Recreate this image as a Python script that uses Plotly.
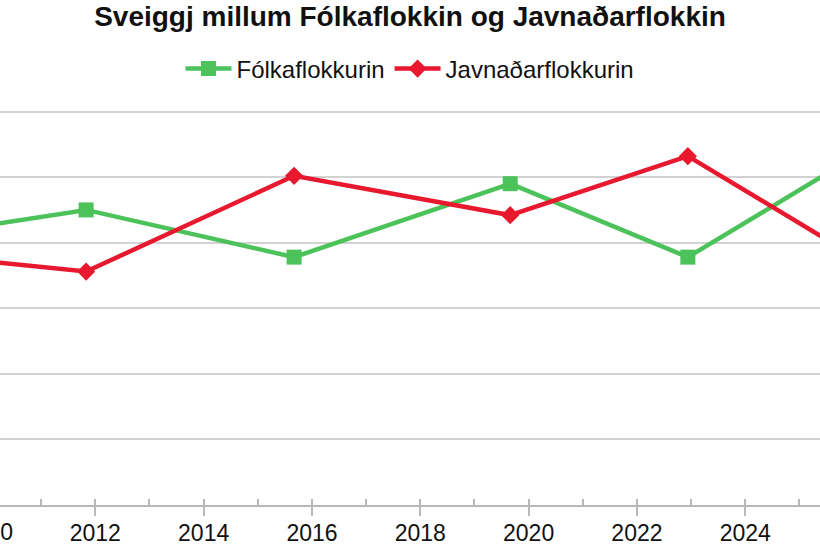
import plotly.graph_objects as go

# Election dates (decimal years) and vote shares (%)
years = [2008.05, 2011.83, 2015.67, 2019.66, 2022.94, 2026.0]
folkaflokkurin = [20.1, 22.5, 18.9, 24.5, 18.9, 26.5]
javnadarflokkurin = [19.4, 17.8, 25.1, 22.1, 26.6, 19.0]
series_names = ["Fólkaflokkurin", "Javnaðarflokkurin"]
title_text = "Sveiggj millum Fólkaflokkin og Javnaðarflokkin"

x_range = [2010.24, 2025.38]
y_range = [0, 30.5]
first_tick = 2010

GREEN = "#4cc25a"
RED = "#e8182e"
GRID = "#d2d2d2"
AXIS = "#b8b8b8"
FONT = "Liberation Sans"
TEXT = "#111111"

fig = go.Figure()
fig.add_trace(go.Scatter(
    x=years, y=folkaflokkurin, name=series_names[0], mode="lines+markers",
    line=dict(color=GREEN, width=4.5),
    marker=dict(symbol="square", size=15, color=GREEN),
))
fig.add_trace(go.Scatter(
    x=years, y=javnadarflokkurin, name=series_names[1], mode="lines+markers",
    line=dict(color=RED, width=4.5),
    marker=dict(symbol="diamond", size=14, color=RED),
))
# invisible trace to activate the minor-tick overlay axis
fig.add_trace(go.Scatter(x=[years[1]], y=[folkaflokkurin[1]], xaxis="x2",
                         mode="markers", marker=dict(opacity=0),
                         showlegend=False, hoverinfo="skip"))

# partially visible first tick label (left of the range)
frac = (first_tick - x_range[0]) / (x_range[1] - x_range[0])
fig.add_annotation(x=frac, xref="paper", y=0, yref="paper", yshift=-27,
                   text=str(first_tick), showarrow=False,
                   font=dict(family=FONT, size=23, color=TEXT),
                   xanchor="center", yanchor="middle")

fig.update_layout(
    width=820, height=544,
    margin=dict(l=0, r=0, t=105, b=39, autoexpand=False),
    paper_bgcolor="white", plot_bgcolor="white",
    font=dict(family=FONT, color=TEXT),
    title=dict(text="<b>" + title_text + "</b>", x=0.5, xanchor="center",
               y=1 - 16 / 544, yanchor="middle", yref="container",
               font=dict(family=FONT, size=28, color=TEXT)),
    legend=dict(orientation="h", x=0.5, xanchor="center", y=1.09, yanchor="middle",
                font=dict(family=FONT, size=24, color=TEXT),
                itemwidth=46),
    xaxis=dict(range=x_range, tick0=first_tick, dtick=2, showgrid=False,
               showline=True, linecolor=AXIS, linewidth=2, automargin=False,
               ticks="outside", ticklen=9, tickwidth=1.5, tickcolor=AXIS,
               ticklabelstandoff=-3,
               tickfont=dict(family=FONT, size=23, color=TEXT),
               zeroline=False),
    xaxis2=dict(range=x_range, overlaying="x", anchor="y", side="bottom",
                tick0=first_tick, dtick=1, ticks="inside", ticklen=6,
                tickwidth=1.5, tickcolor=AXIS, showticklabels=False,
                showgrid=False, showline=False, zeroline=False, automargin=False),
    yaxis=dict(range=y_range, dtick=5, showgrid=True, gridcolor=GRID, gridwidth=1.5,
               showticklabels=False, zeroline=False, showline=False, ticks="",
               automargin=False),
)

fig.write_html("out.html", config={"displayModeBar": False},
               post_script="document.body.style.margin='0';")
